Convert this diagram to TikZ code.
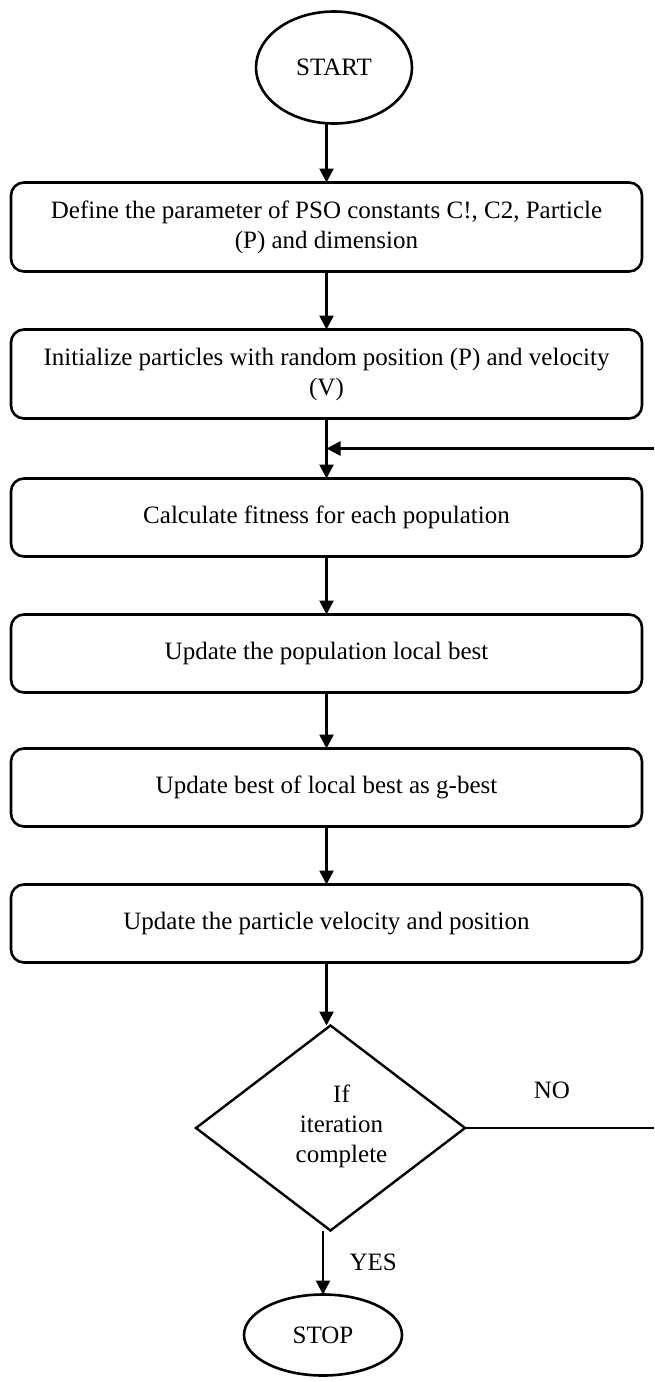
\documentclass[tikz,border=0pt]{standalone}
\usepackage{fontspec}
\setmainfont{Liberation Serif}
\usetikzlibrary{positioning, shapes.geometric, arrows.meta, calc}
\tikzstyle{base} = [draw=black, line width=2.6pt, outer sep=0pt, text centered, align=center, font=\fontsize{25}{30}\selectfont]
\tikzstyle{terminal} = [base, ellipse, inner sep=2pt]
\tikzstyle{process} = [base, rectangle, rounded corners=13pt, minimum width=631pt, inner sep=5pt]
\tikzstyle{decision} = [base, diamond, line width=2.4pt, minimum width=269pt, minimum height=205pt, inner sep=0pt]
\tikzstyle{tag} = [font=\fontsize{25}{30}\selectfont, align=center]
\tikzstyle{connector} = [line width=2.6pt]
\tikzstyle{arrow} = [connector, -{Triangle[width=14pt, length=14pt]}]

\begin{document}
\begin{tikzpicture}[x=1pt, y=-1pt]
\useasboundingbox (0,0) rectangle (654,1382);
\coordinate (EDGE) at (654,0);

\node (DEFINE_PARAMS) [process, minimum height=89pt] at (326.5,227) {Define the parameter of PSO constants C!, C2, Particle\\(P) and dimension};
\node (START) [terminal, minimum width=156pt, minimum height=112pt, above=59pt of DEFINE_PARAMS, xshift=7.5pt] {START};
\node (INIT_PARTICLES) [process, minimum height=89pt, below=58pt of DEFINE_PARAMS] {Initialize particles with random position (P) and velocity\\(V)};
\node (CALC_FITNESS) [process, minimum height=78pt, below=60pt of INIT_PARTICLES] {Calculate fitness for each population};
\node (UPDATE_LOCAL_BEST) [process, minimum height=78pt, below=58pt of CALC_FITNESS] {Update the population local best};
\node (UPDATE_GBEST) [process, minimum height=78pt, below=56pt of UPDATE_LOCAL_BEST] {Update best of local best as g-best};
\node (UPDATE_VELOCITY) [process, minimum height=78pt, below=58pt of UPDATE_GBEST] {Update the particle velocity and position};
\node (CHECK_ITERATION) [decision, below=63pt of UPDATE_VELOCITY, xshift=4pt] {};
\node (CHECK_TEXT) [tag] at ($(CHECK_ITERATION)+(11,-2)$) {If\\iteration\\complete};
\node (STOP) [terminal, minimum width=158pt, minimum height=81pt, below=64pt of CHECK_ITERATION, xshift=-7.5pt] {STOP};

\coordinate (JOIN) at ($(INIT_PARTICLES.south)!0.5!(CALC_FITNESS.north)$);
\coordinate (LOOP_IN) at (JOIN -| EDGE);
\coordinate (NO_OUT) at (CHECK_ITERATION.east -| EDGE);

\draw [arrow] (START.south -| DEFINE_PARAMS.north) -- (DEFINE_PARAMS.north);
\draw [arrow] (DEFINE_PARAMS) -- (INIT_PARTICLES);
\draw [arrow] (INIT_PARTICLES) -- (CALC_FITNESS);
\draw [arrow] (LOOP_IN) -- (JOIN);
\draw [arrow] (CALC_FITNESS) -- (UPDATE_LOCAL_BEST);
\draw [arrow] (UPDATE_LOCAL_BEST) -- (UPDATE_GBEST);
\draw [arrow] (UPDATE_GBEST) -- (UPDATE_VELOCITY);
\draw [arrow] (UPDATE_VELOCITY.south) -- (UPDATE_VELOCITY.south |- CHECK_ITERATION.north);
\draw [connector] (CHECK_ITERATION.east) -- node[tag, pos=0.46, above=25pt]{NO} (NO_OUT);
\draw [arrow] (CHECK_ITERATION.south -| STOP.north) -- node[tag, right=22pt]{YES} (STOP.north);

\end{tikzpicture}
\end{document}
